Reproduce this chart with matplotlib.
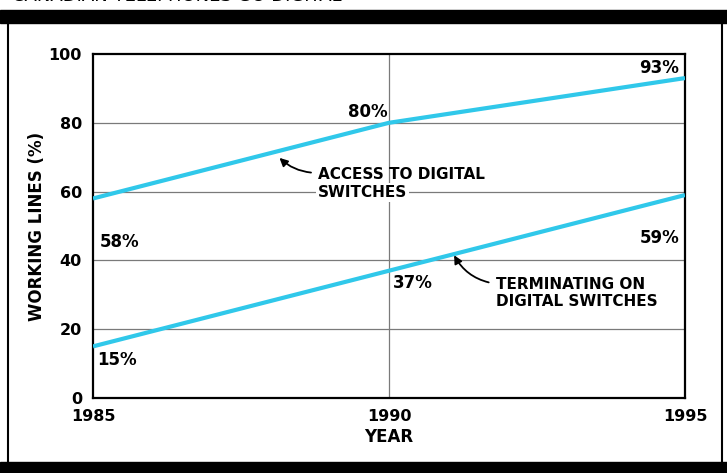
import matplotlib.pyplot as plt
from matplotlib.patches import Rectangle
from matplotlib.lines import Line2D

# dados
anos = [1985, 1990, 1995]
acesso = [58, 80, 93]
terminando = [15, 37, 59]
rotulos_acesso = ['58%', '80%', '93%']
rotulos_terminando = ['15%', '37%', '59%']
ticks_y = [0, 20, 40, 60, 80, 100]
ticks_x = [1985, 1990, 1995]

plt.rcParams['font.family'] = ['DejaVu Sans']

cor_linha = '#30c8ea'

fig = plt.figure(figsize=(7.27, 4.73), dpi=100)
ax = fig.add_axes([93 / 727, 1 - 398 / 473, 592 / 727, 344 / 473])

# moldura da figura
fig.patches.append(Rectangle((0, 1 - 23 / 473), 1, 13 / 473, transform=fig.transFigure,
                             color='black', zorder=0))
fig.patches.append(Rectangle((0, 0), 1, 11 / 473, transform=fig.transFigure,
                             color='black', zorder=0))
fig.lines.append(Line2D([8 / 727, 8 / 727], [11 / 473, 1 - 23 / 473],
                        transform=fig.transFigure, color='black', lw=1.5))
fig.lines.append(Line2D([722 / 727, 722 / 727], [11 / 473, 1 - 23 / 473],
                        transform=fig.transFigure, color='black', lw=1.5))
fig.text(12 / 727, 1 + 4 / 473, 'CANADIAN TELEPHONES GO DIGITAL', fontsize=13,
         va='center', ha='left')

# grade
for v in ticks_y[1:-1]:
    ax.axhline(v, color='#7a7a7a', lw=0.9, zorder=1)
ax.axvline(1990, color='#7a7a7a', lw=0.9, zorder=1)

# linhas
ax.plot(anos, acesso, color=cor_linha, lw=3, solid_capstyle='butt', zorder=3)
ax.plot(anos, terminando, color=cor_linha, lw=3, solid_capstyle='butt', zorder=3)

ax.set_xlim(1985, 1995)
ax.set_ylim(0, 100)
ax.set_xticks(ticks_x)
ax.set_yticks(ticks_y)
ax.tick_params(length=0, labelsize=11.5)
ax.tick_params(axis='y', pad=8)
ax.tick_params(axis='x', pad=8)
for lb in ax.get_xticklabels() + ax.get_yticklabels():
    lb.set_fontweight('bold')
for s in ax.spines.values():
    s.set_linewidth(1.6)
ax.set_xlabel('YEAR', fontsize=12, fontweight='semibold', labelpad=3)
ax.set_ylabel('WORKING LINES (%)', fontsize=12, fontweight='semibold', labelpad=2)

# rotulos de porcentagem
kw = dict(fontsize=12, fontweight='semibold', va='center', zorder=4)
ax.text(anos[0] + 0.12, acesso[0] - 12.7, rotulos_acesso[0], ha='left', **kw)
ax.text(anos[1] - 0.35, acesso[1] + 3, rotulos_acesso[1], ha='center', **kw)
ax.text(anos[2] - 0.1, acesso[2] + 3, rotulos_acesso[2], ha='right', **kw)
ax.text(anos[0] + 0.07, terminando[0] - 4, rotulos_terminando[0], ha='left', **kw)
ax.text(anos[1] + 0.07, terminando[1] - 3.6, rotulos_terminando[1], ha='left', **kw)
ax.text(anos[2] - 0.1, terminando[2] - 12.5, rotulos_terminando[2], ha='right', **kw)

# anotacoes
ax.annotate('ACCESS TO DIGITAL', xy=(1988.15, 69.8), xytext=(1988.8, 65.0),
            fontsize=11, fontweight='semibold', ha='left', va='center', zorder=5,
            arrowprops=dict(arrowstyle='-|>', color='black', lw=1.3,
                            connectionstyle='arc3,rad=-0.2', shrinkA=3, shrinkB=0,
                            mutation_scale=12, relpos=(0, 0.6)))
ax.text(1988.8, 59.8, 'SWITCHES', fontsize=11, fontweight='semibold', ha='left',
        va='center', zorder=5, bbox=dict(fc='white', ec='none', pad=1.5))
ax.annotate('TERMINATING ON\nDIGITAL SWITCHES', xy=(1991.1, 41.5), xytext=(1991.8, 30.5),
            fontsize=11, fontweight='semibold', ha='left', va='center', linespacing=1.1,
            zorder=5,
            arrowprops=dict(arrowstyle='-|>', color='black', lw=1.3,
                            connectionstyle='arc3,rad=-0.25', shrinkA=3, shrinkB=0,
                            mutation_scale=12, relpos=(0, 0.8)))

fig.savefig('out.png', dpi=100)
